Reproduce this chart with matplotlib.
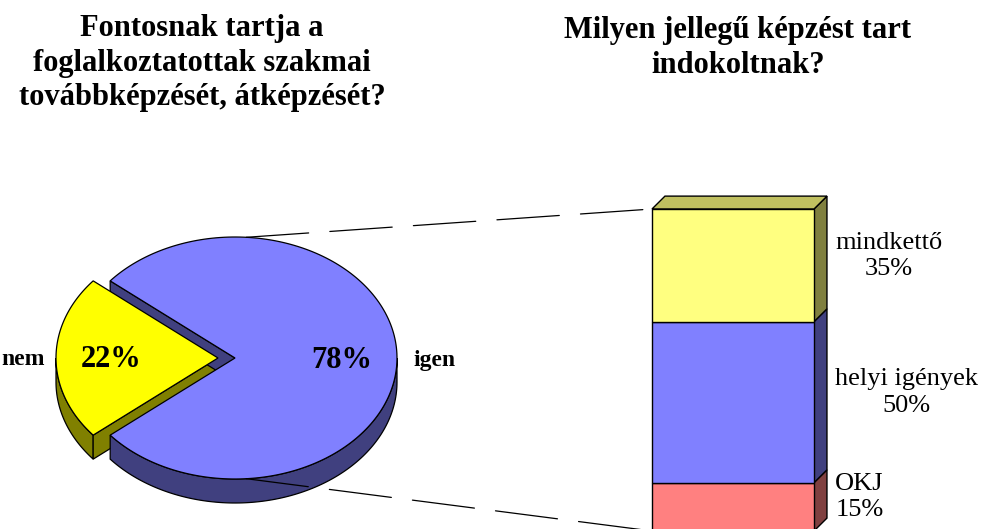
import numpy as np
import matplotlib.pyplot as plt
from matplotlib.patches import Polygon, ConnectionPatch

# data
pie_labels = ['igen', 'nem']
pie_values = [78, 22]
pie_colors = ['#8080FF', '#FFFF00']
pie_side = ['#40407F', '#808000']

bar_labels = ['OKJ', 'helyi igények', 'mindkettő']
bar_values = [15, 50, 35]
bar_colors = ['#FF8080', '#8080FF', '#FFFF80']
bar_side = ['#804040', '#40407F', '#80803F']
bar_top = '#C0C060'

title_left = 'Fontosnak tartja a\nfoglalkoztatottak szakmai\ntovábbképzését, átképzését?'
title_right = 'Milyen jellegű képzést tart\nindokoltnak?'

plt.rcParams['font.family'] = ['Liberation Serif', 'DejaVu Serif']

W, H = 986, 529
fig = plt.figure(figsize=(W / 100, H / 100), dpi=100)
ax = fig.add_axes([0, 0, 1, 1])
ax.set_xlim(0, W)
ax.set_ylim(H, 0)
ax.axis('off')

# 3D pie geometry (pixels)
cx, cy, rx, ry, depth = 235, 358, 162, 121, 24
explode = [0, 17]


def rim(t, x0, y0):
    t = np.radians(t)
    return x0 + rx * np.cos(t), y0 - ry * np.sin(t)


degs = np.array(pie_values) / sum(pie_values) * 360
start = 180 + degs[1] / 2
spans = []
a = start
for d in degs:
    spans.append((a, a + d))
    a += d

centers = []
for (a0, a1), ex in zip(spans, explode):
    mid = np.radians((a0 + a1) / 2)
    centers.append((cx + ex * np.cos(mid), cy - ex * np.sin(mid)))


def draw_slice(i, z):
    a0, a1 = spans[i]
    x0, y0 = centers[i]
    # outer wall, front half only
    for lo, hi in [(180, 360), (540, 720)]:
        s, e = max(a0, lo), min(a1, hi)
        if e > s:
            t = np.linspace(s, e, 120)
            xs, ys = rim(t, x0, y0)
            pts = np.column_stack([np.r_[xs, xs[::-1]], np.r_[ys, ys[::-1] + depth]])
            ax.add_patch(Polygon(pts, closed=True, facecolor=pie_side[i],
                                 edgecolor='black', lw=0.9, zorder=z))
    # cut faces turned towards the viewer
    for ang, normal in [(a0, a0 - 90), (a1, a1 + 90)]:
        if np.sin(np.radians(normal)) < -0.05:
            rxp, ryp = rim(ang, x0, y0)
            pts = [(x0, y0), (rxp, ryp), (rxp, ryp + depth), (x0, y0 + depth)]
            ax.add_patch(Polygon(pts, closed=True, facecolor=pie_side[i],
                                 edgecolor='black', lw=0.9, zorder=z))


def draw_top(i, z):
    a0, a1 = spans[i]
    x0, y0 = centers[i]
    t = np.linspace(a0, a1, 200)
    xs, ys = rim(t, x0, y0)
    pts = np.column_stack([np.r_[x0, xs], np.r_[y0, ys]])
    ax.add_patch(Polygon(pts, closed=True, facecolor=pie_colors[i],
                         edgecolor='black', lw=0.9, zorder=z))


draw_slice(1, 1)
draw_slice(0, 2)
draw_top(0, 3)
draw_top(1, 4)

# percentage and category labels
for i, (lab, v) in enumerate(zip(pie_labels, pie_values)):
    a0, a1 = spans[i]
    x0, y0 = centers[i]
    px, py = rim((a0 + a1) / 2, x0, y0)
    lx, ly = x0 + (px - x0) * 0.66, y0 + (py - y0) * 0.66
    ax.text(lx, ly + 2, f'{v}%', ha='center', va='center', fontsize=22,
            fontweight='bold', zorder=6)
    if np.cos(np.radians((a0 + a1) / 2)) > 0:
        ax.text(px + 16, py + 2, lab, ha='left', va='center', fontsize=17,
                fontweight='bold', zorder=6)
    else:
        ax.text(1, py + 2, lab, ha='left', va='center', fontsize=17,
                fontweight='bold', zorder=6)

# titles
ax.text(202, 63, title_left, ha='center', va='center', fontsize=22,
        fontweight='bold', linespacing=1.24)
ax.text(738, 48, title_right, ha='center', va='center', fontsize=22,
        fontweight='bold', linespacing=1.24)

# stacked 3D bar
bx = fig.add_axes([652 / W, (H - 531) / H, 162 / W, 322 / H])
bx.set_xlim(0, 1)
bx.set_ylim(0, 100)
bx.axis('off')
dx, dy = 0.08, 4.0
bottom = 0
for i, v in enumerate(bar_values):
    bx.bar(0.5, v, bottom=bottom, width=1, color=bar_colors[i],
           edgecolor='black', lw=1, clip_on=False, zorder=2)
    bx.add_patch(Polygon([(1, bottom), (1 + dx, bottom + dy), (1 + dx, bottom + v + dy),
                          (1, bottom + v)], closed=True, facecolor=bar_side[i],
                         edgecolor='black', lw=1, clip_on=False, zorder=1))
    bx.text(1.13, bottom + v / 2 + 3, f'{bar_labels[i]}\n{v}%', ha='left',
            va='center', multialignment='center', fontsize=19, linespacing=1.25,
            clip_on=False)
    bottom += v
bx.add_patch(Polygon([(0, bottom), (dx, bottom + dy), (1 + dx, bottom + dy), (1, bottom)],
                     closed=True, facecolor=bar_top, edgecolor='black', lw=1,
                     clip_on=False, zorder=1))

# leader lines
for ang, by in [(86, bottom), (274, 0)]:
    px, py = rim(ang, cx, cy)
    con = ConnectionPatch(xyA=(px, py), coordsA=ax.transData, xyB=(0, by),
                          coordsB=bx.transData, color='black', lw=0.9,
                          linestyle=(0, (50, 17)), zorder=10)
    fig.add_artist(con)

fig.savefig('out.png', dpi=100)
